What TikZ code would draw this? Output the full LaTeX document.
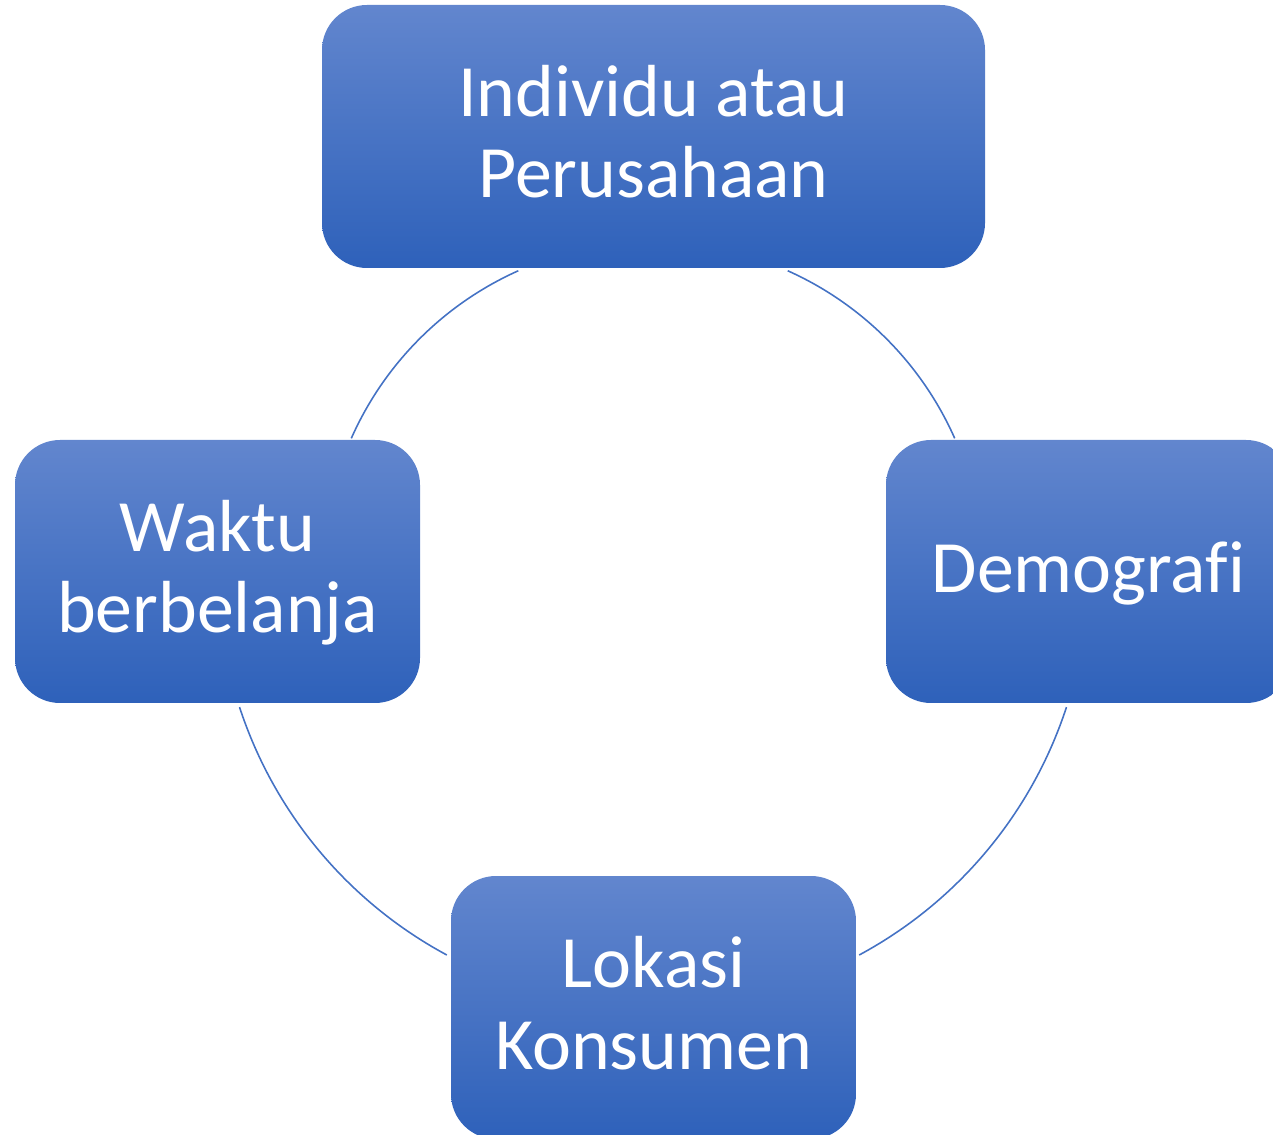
\documentclass[tikz,border=0pt]{standalone}
\usepackage{fontspec}
\setmainfont{Carlito}[Ligatures=NoCommon]
\definecolor{boxtop}{RGB}{98,134,206}
\definecolor{boxbot}{RGB}{46,97,186}
\definecolor{arcblue}{RGB}{68,114,196}
\tikzset{
  cyclebox/.style={rounded corners=0.45cm, top color=boxtop, bottom color=boxbot,
    draw=none, text=white, align=center, minimum height=2.63cm, inner sep=0pt,
    font=\fontsize{21pt}{23.05pt}\selectfont},
  twoline/.style={text height=1.40cm, text depth=0.17cm},
  oneline/.style={text height=0.60cm, text depth=0.17cm},
  cyclearc/.style={draw=arcblue, line width=0.45pt}
}
\begin{document}
\begin{tikzpicture}
\useasboundingbox (0,0) rectangle (12.73,11.34);
\clip (0,0) rectangle (12.73,11.34);
\coordinate (c) at (6.53,5.62);
\draw[cyclearc] (c) ++(114.1:3.30) arc[start angle=114.1, end angle=156.1, radius=3.30];
\draw[cyclearc] (c) ++(65.9:3.30) arc[start angle=65.9, end angle=23.9, radius=3.30];
\draw[cyclearc] (c) ++(198.1:4.35) arc[start angle=198.1, end angle=241.7, radius=4.35];
\draw[cyclearc] (c) ++(298.3:4.35) arc[start angle=298.3, end angle=341.9, radius=4.35];
\node[cyclebox, twoline, minimum width=6.63cm] (top) at (6.535,9.975) {Individu atau\\Perusahaan};
\node[cyclebox, twoline, minimum width=4.05cm] (left) at (2.175,5.625) {Waktu\\berbelanja};
\node[cyclebox, oneline, minimum width=4.05cm] (right) at (10.885,5.625) {Demografi};
\node[cyclebox, twoline, minimum width=4.05cm] (bottom) at (6.535,1.265) {Lokasi\\Konsumen};
\end{tikzpicture}
\end{document}
